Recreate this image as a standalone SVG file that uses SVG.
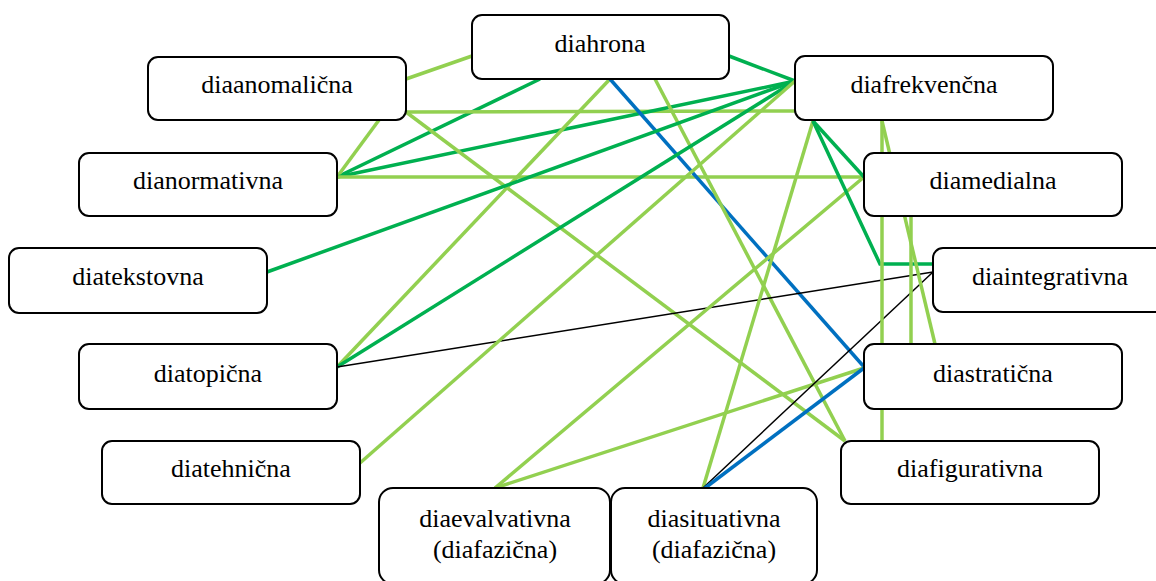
<svg xmlns="http://www.w3.org/2000/svg" width="1156" height="581" viewBox="0 0 1156 581">
<style>
.box{fill:#fff;stroke:#000;stroke-width:2}
.t{font-size:26px;fill:#000;text-anchor:middle}
.lg{stroke:#92D050;stroke-width:3.5;fill:none}
.g{stroke:#00B050;stroke-width:3.5;fill:none}
.b{stroke:#0070C0;stroke-width:3.5;fill:none}
.k{stroke:#000;stroke-width:1.5;fill:none}
</style>
<rect width="1156" height="581" fill="#fff"/>
<g id="connectors">
<line class="lg" x1="406" y1="79" x2="472" y2="56"/>
<line class="g" x1="540" y1="79" x2="337" y2="177"/>
<line class="lg" x1="406" y1="112" x2="795" y2="111"/>
<line class="lg" x1="379" y1="120" x2="337" y2="177"/>
<line class="g" x1="337" y1="177" x2="795" y2="81"/>
<line class="lg" x1="337" y1="177" x2="864" y2="177"/>
<line class="lg" x1="406" y1="112" x2="845" y2="441"/>
<line class="lg" x1="610" y1="79" x2="337" y2="367"/>
<line class="b" x1="610" y1="79" x2="865" y2="368"/>
<line class="lg" x1="655" y1="79" x2="845" y2="441"/>
<line class="g" x1="729" y1="56" x2="795" y2="81"/>
<line class="g" x1="267" y1="272" x2="795" y2="81"/>
<line class="g" x1="337" y1="367" x2="795" y2="81"/>
<line class="k" x1="337" y1="367" x2="933" y2="272"/>
<line class="lg" x1="360" y1="463" x2="795" y2="81"/>
<line class="lg" x1="495" y1="488" x2="864" y2="177"/>
<line class="lg" x1="495" y1="488" x2="864" y2="368"/>
<line class="lg" x1="703" y1="488" x2="813" y2="121"/>
<line class="k" x1="703" y1="488" x2="933" y2="272"/>
<line class="b" x1="705" y1="488" x2="864" y2="368"/>
<line class="g" x1="813" y1="121" x2="864" y2="177"/>
<polyline class="g" points="813,121 880,264 933,264"/>
<line class="lg" x1="882" y1="121" x2="882" y2="441"/>
<line class="lg" x1="882" y1="121" x2="935" y2="344"/>
<line class="lg" x1="911" y1="216" x2="911" y2="344"/>
</g>
<g font-family="Liberation Serif, Times New Roman, serif">
<g id="diahrona"><rect class="box" x="472" y="15" width="257" height="64" rx="10"/><text class="t" x="600" y="52">diahrona</text></g>
<g id="diaanomalicna"><rect class="box" x="148" y="57" width="258" height="63" rx="10"/><text class="t" x="277" y="93">diaanomalična</text></g>
<g id="diafrekvencna"><rect class="box" x="795" y="56" width="258" height="64" rx="10"/><text class="t" x="924" y="93">diafrekvenčna</text></g>
<g id="dianormativna"><rect class="box" x="79" y="153" width="258" height="63" rx="10"/><text class="t" x="208" y="189">dianormativna</text></g>
<g id="diamedialna"><rect class="box" x="864" y="153" width="258" height="63" rx="10"/><text class="t" x="993" y="189">diamedialna</text></g>
<g id="diatekstovna"><rect class="box" x="9" y="248" width="258" height="65" rx="10"/><text class="t" x="138" y="285">diatekstovna</text></g>
<g id="diaintegrativna"><rect class="box" x="933" y="248" width="260" height="64" rx="10"/><text class="t" x="1050" y="285">diaintegrativna</text></g>
<g id="diatopicna"><rect class="box" x="79" y="344" width="258" height="65" rx="10"/><text class="t" x="208" y="382">diatopična</text></g>
<g id="diastraticna"><rect class="box" x="864" y="344" width="258" height="65" rx="10"/><text class="t" x="993" y="382">diastratična</text></g>
<g id="diatehnicna"><rect class="box" x="102" y="441" width="258" height="63" rx="10"/><text class="t" x="231" y="477">diatehnična</text></g>
<g id="diafigurativna"><rect class="box" x="841" y="441" width="258" height="63" rx="10"/><text class="t" x="970" y="477">diafigurativna</text></g>
<g id="diaevalvativna"><rect class="box" x="379" y="488" width="231" height="96" rx="14"/><text class="t" x="495" y="527">diaevalvativna</text><text class="t" x="495" y="558">(diafazična)</text></g>
<g id="diasituativna"><rect class="box" x="611" y="488" width="206" height="96" rx="14"/><text class="t" x="714" y="527">diasituativna</text><text class="t" x="714" y="558">(diafazična)</text></g>
</g>
</svg>
